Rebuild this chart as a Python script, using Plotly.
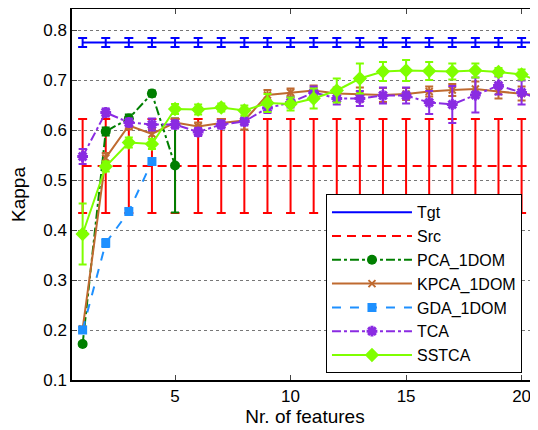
import plotly.graph_objects as go

# ---------------- data ----------------
x_all = list(range(1, 22))

tgt_val = [0.775] * 21
tgt_err = [0.009] * 21

src_val = [0.528] * 21
src_err = [0.094] * 21

pca_x = [1, 2, 3, 4, 5]
pca_val = [0.172, 0.597, 0.623, 0.673, 0.529]
pca_err = [0.004, 0.008, 0.008, 0.006, 0.094]

kpca_val = [0.202, 0.544, 0.609, 0.592, 0.615, 0.607, 0.614, 0.619, 0.670, 0.675, 0.679,
            0.673, 0.671, 0.670, 0.672, 0.677, 0.680, 0.682, 0.677, 0.673, 0.668]
kpca_err = [0.005, 0.010, 0.008, 0.010, 0.008, 0.008, 0.008, 0.018, 0.010, 0.008, 0.010,
            0.012, 0.014, 0.014, 0.012, 0.010, 0.012, 0.015, 0.014, 0.014, 0.014]

gda_x = [1, 2, 3, 4]
gda_val = [0.200, 0.374, 0.437, 0.537]
gda_err = [0.005, 0.008, 0.005, 0.005]

tca_val = [0.547, 0.635, 0.615, 0.611, 0.611, 0.596, 0.611, 0.617, 0.644, 0.655, 0.675,
           0.663, 0.663, 0.669, 0.669, 0.655, 0.651, 0.670, 0.689, 0.675, 0.658]
tca_err = [0.015, 0.008, 0.008, 0.012, 0.008, 0.008, 0.008, 0.008, 0.010, 0.010, 0.012,
           0.012, 0.015, 0.016, 0.016, 0.023, 0.037, 0.035, 0.018, 0.024, 0.020]

sstca_val = [0.392, 0.527, 0.575, 0.572, 0.642, 0.641, 0.645, 0.639, 0.654, 0.652, 0.663,
             0.679, 0.703, 0.717, 0.719, 0.718, 0.717, 0.719, 0.716, 0.711, 0.693]
sstca_err = [0.061, 0.010, 0.010, 0.010, 0.010, 0.010, 0.008, 0.010, 0.018, 0.013, 0.020,
             0.024, 0.030, 0.019, 0.021, 0.018, 0.016, 0.014, 0.008, 0.010, 0.010]

x_ticks = [5, 10, 15, 20]
y_ticks = [0.1, 0.2, 0.3, 0.4, 0.5, 0.6, 0.7, 0.8]

FONT = "Liberation Sans, Arial, sans-serif"

def eb(vals, color, width=4, thick=1.8):
    return dict(type="data", array=vals, visible=True, color=color, thickness=thick, width=width)

fig = go.Figure()

fig.add_trace(go.Scatter(x=x_all, y=tgt_val, name="Tgt", mode="lines",
                         line=dict(color="#0000FF", width=2),
                         error_y=eb(tgt_err, "#0000FF", 4.5, 2)))
fig.add_trace(go.Scatter(x=x_all, y=src_val, name="Src", mode="lines",
                         line=dict(color="#FF0000", width=2, dash="9px,6px"),
                         error_y=eb(src_err, "#FF0000", 4.5, 2)))
fig.add_trace(go.Scatter(x=pca_x, y=pca_val, name="PCA_1DOM", mode="lines+markers",
                         line=dict(color="#007F00", width=2, dash="dashdot"),
                         marker=dict(symbol="circle", size=10, color="#007F00"),
                         error_y=eb(pca_err, "#007F00", 4, 2)))
fig.add_trace(go.Scatter(x=x_all, y=kpca_val, name="KPCA_1DOM", mode="lines+markers",
                         line=dict(color="#BF6A30", width=2),
                         marker=dict(symbol="x-thin", size=7, color="#BF6A30",
                                     line=dict(color="#BF6A30", width=2)),
                         error_y=eb(kpca_err, "#BF6A30", 4, 2)))
fig.add_trace(go.Scatter(x=gda_x, y=gda_val, name="GDA_1DOM", mode="lines+markers",
                         line=dict(color="#1E90FF", width=2, dash="dash"),
                         marker=dict(symbol="square", size=9, color="#1E90FF"),
                         error_y=eb(gda_err, "#1E90FF", 4, 2)))
fig.add_trace(go.Scatter(x=x_all, y=tca_val, name="TCA", mode="lines+markers",
                         line=dict(color="#8A2BE2", width=2, dash="dashdot"),
                         marker=dict(symbol="asterisk", size=9, color="#8A2BE2",
                                     line=dict(color="#8A2BE2", width=3)),
                         error_y=eb(tca_err, "#8A2BE2", 4, 2)))
fig.add_trace(go.Scatter(x=x_all, y=sstca_val, name="SSTCA", mode="lines+markers",
                         line=dict(color="#7FFF00", width=2),
                         marker=dict(symbol="diamond", size=11, color="#7FFF00"),
                         error_y=eb(sstca_err, "#7FFF00", 4, 2)))

# page body adds an 8px offset; figure is sized/margined to compensate
fig.update_layout(
    width=530, height=422,
    margin=dict(l=64, r=0, t=1, b=50),
    paper_bgcolor="white", plot_bgcolor="white",
    font=dict(family=FONT, size=17, color="black"),
    showlegend=True,
    legend=dict(x=0.545, y=0.018, xanchor="left", yanchor="bottom",
                bgcolor="white", bordercolor="black", borderwidth=1,
                font=dict(size=16, family=FONT), tracegroupgap=0,
                itemwidth=80),
)
fig.update_xaxes(range=[0.54, 20.71], tickvals=x_ticks, ticks="inside", ticklen=5,
                 showline=True, linecolor="black", linewidth=1.5, mirror="ticks",
                 showgrid=False, zeroline=False,
                 title=dict(text="Nr. of features", font=dict(size=19), standoff=1),
                 tickfont=dict(size=17))
fig.update_yaxes(range=[0.1, 0.842], tickvals=y_ticks, ticktext=[f"{v:.1f}" for v in y_ticks],
                 ticks="inside", ticklen=5,
                 showline=True, linecolor="black", linewidth=1.5, mirror=False,
                 showgrid=True, gridcolor="#777777", griddash="dot", gridwidth=1,
                 zeroline=False,
                 title=dict(text="Kappa", font=dict(size=19), standoff=13),
                 tickfont=dict(size=17))

fig.write_html("out.html")
